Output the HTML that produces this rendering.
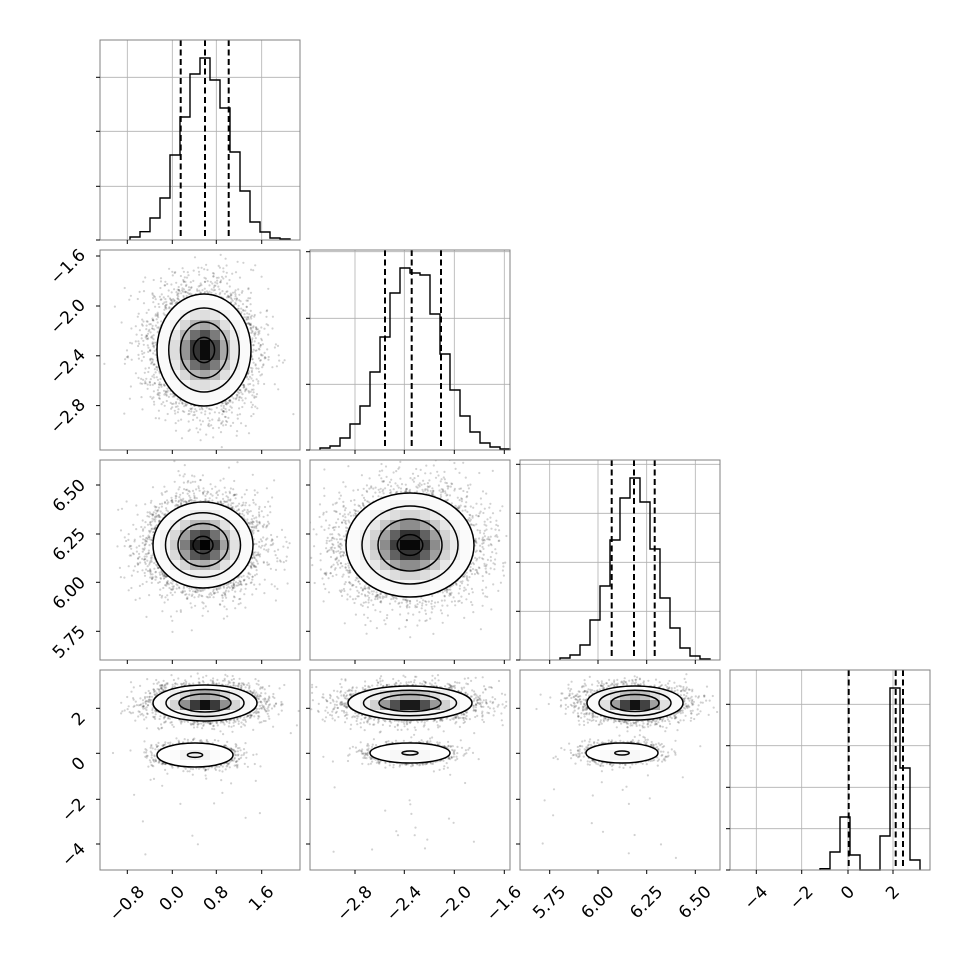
<!DOCTYPE html>
<html><head><meta charset="utf-8"><style>
html,body{margin:0;padding:0;background:#fff;}
svg{display:block;}
svg text{font-family:"DejaVu Sans","Liberation Sans",sans-serif;font-size:17px;fill:#000;}
</style></head><body>
<svg id="s" width="970" height="970" xmlns="http://www.w3.org/2000/svg"></svg>
<script>
const S=document.getElementById('s');
let html='';
const C=[100,310,520,730],R=[40,250,460,670],W=200;
let seed=12345;function rnd(){seed=(seed*1664525+1013904223)>>>0;return seed/4294967296;}
function gauss(){let u=rnd()||1e-9,v=rnd();return Math.sqrt(-2*Math.log(u))*Math.cos(2*Math.PI*v);}
const XT=[[127.3,172.3,216.3,261.7],[355,404.3,454.3,504.3],[549.7,598,646.7,695.3],[756.3,801.7,848,893]];
const XL=[["−0.8","0.0","0.8","1.6"],["−2.8","−2.4","−2.0","−1.6"],["5.75","6.00","6.25","6.50"],["−4","−2","0","2"]];
const YT=[null,[256,306,355.8,405.6],[485,534,582.3,631.3],[708.3,753.3,799.3,844]];
const YL=[null,["−1.6","−2.0","−2.4","−2.8"],["6.50","6.25","6.00","5.75"],["2","0","−2","−4"]];
let cid=0;
function frame(x,y,xt,yt){
  html+=`<rect x="${x}" y="${y}" width="${W}" height="${W}" fill="none" stroke="#808080" stroke-width="1"/>`;
  xt.forEach(t=>html+=`<line x1="${t}" y1="${y+W}" x2="${t}" y2="${y+W+4}" stroke="#000" stroke-width="1"/>`);
  yt.forEach(t=>html+=`<line x1="${x-4}" y1="${t}" x2="${x}" y2="${t}" stroke="#000" stroke-width="1"/>`);
}
const H=[
 {s:130,h:[3,8.3,22,42,85,123,166,182,160,132,88,49,18,8,2,1],yt:[77.3,131.3,186.3,240],d:[180.7,205,228.7]},
 {s:320,h:[2,4,12,26,44,78,113,157,182,177,175,136,96,60,34,18,7,3,1],yt:[251.7,318.3,384.3,450],d:[385,411.7,441]},
 {s:560,h:[2,5,15,40,74,120,162,182,158,111,62,32,12,4,1],yt:[464.3,513.3,562.3,611.3,660],d:[611.7,634,654.7]},
 {s:820,h:[1.3,18,53,15,0,0,34,182,102,10],yt:[704.3,745.7,787.3,828.7,870],d:[848.7,895.7,903]}];
H.forEach((h,i)=>{
  const x=C[i],y=R[i],b=y+W;
  XT[i].forEach(t=>html+=`<line x1="${t}" y1="${y}" x2="${t}" y2="${b}" stroke="#b0b0b0" stroke-width="0.8"/>`);
  h.yt.forEach(t=>html+=`<line x1="${x}" y1="${t}" x2="${x+W}" y2="${t}" stroke="#b0b0b0" stroke-width="0.8"/>`);
  let p=`M${h.s},${b}`;h.h.forEach((v,k)=>{p+=` L${h.s+k*10},${b-v} L${h.s+k*10+10},${b-v}`;});p+=` L${h.s+h.h.length*10},${b}`;
  html+=`<path d="${p}" fill="none" stroke="#000" stroke-width="1.4"/>`;
  h.d.forEach(t=>html+=`<line x1="${t}" y1="${y}" x2="${t}" y2="${b}" stroke="#000" stroke-width="2" stroke-dasharray="6,3.5"/>`);
  frame(x,y,XT[i],h.yt);
});
const P=[
 {r:1,c:0,b:[{cx:204,cy:350,sx:23.5,sy:28,n:5000,w:1,rs:[2,1.5,1,0.45]}]},
 {r:2,c:0,b:[{cx:203,cy:545,sx:25,sy:21.5,n:5000,w:1,rs:[2,1.5,1,0.4]}]},
 {r:2,c:1,b:[{cx:410,cy:545,sx:32,sy:26,n:5000,w:1,rs:[2,1.5,1,0.4]}]},
 {r:3,c:0,b:[{cx:205,cy:703,sx:26,sy:9,n:3000,w:1,rs:[2,1.5,1]},{cx:195,cy:755,sx:19,sy:6,n:1300,w:0.35,rs:[2,0.4]}]},
 {r:3,c:1,b:[{cx:410,cy:703,sx:31,sy:8.5,n:3000,w:1,rs:[2,1.5,1]},{cx:410,cy:753,sx:20,sy:5,n:1300,w:0.35,rs:[2,0.4]}]},
 {r:3,c:2,b:[{cx:635,cy:703,sx:24,sy:8.5,n:3000,w:1,rs:[2,1.5,1]},{cx:622,cy:753,sx:18,sy:5,n:1300,w:0.35,rs:[2,0.4]}]}];
P.forEach(p=>{
  const x=C[p.c],y=R[p.r];cid++;
  html+=`<clipPath id="pc${cid}"><rect x="${x}" y="${y}" width="${W}" height="${W}"/></clipPath>`;
  let cl='';p.b.forEach(b=>cl+=`<ellipse cx="${b.cx}" cy="${b.cy}" rx="${b.sx*2}" ry="${b.sy*2}"/>`);
  html+=`<clipPath id="ec${cid}">${cl}</clipPath>`;
  html+=`<g clip-path="url(#pc${cid})">`;
  let dots='';
  p.b.forEach(b=>{for(let k=0;k<b.n;k++){const dx=gauss()*b.sx*1.05,dy=gauss()*b.sy*1.05;dots+=`<circle cx="${(b.cx+dx).toFixed(1)}" cy="${(b.cy+dy).toFixed(1)}" r="1.1"/>`;}});
  if(p.r==3){for(let k=0;k<18;k++){dots+=`<circle cx="${(x+20+rnd()*150).toFixed(1)}" cy="${(770+rnd()*90).toFixed(1)}" r="1.1"/>`;}}
  html+=`<g fill="#000" fill-opacity="0.18">${dots}</g>`;
  let sq='';
  for(let gx=x;gx<x+W;gx+=10)for(let gy=y;gy<y+W;gy+=10){
    let v=0;p.b.forEach(b=>{const dx=(gx+5-b.cx)/b.sx,dy=(gy+5-b.cy)/b.sy;v+=b.w*Math.exp(-(dx*dx+dy*dy)/2);});
    v=Math.min(1,v);
    const g=Math.round(255*(1-Math.pow(v,2.6)));
    sq+=`<rect x="${gx}" y="${gy}" width="10" height="10" fill="rgb(${g},${g},${g})"/>`;
  }
  html+=`<g clip-path="url(#ec${cid})">${sq}</g>`;
  p.b.forEach(b=>b.rs.forEach(r=>html+=`<ellipse cx="${b.cx}" cy="${b.cy}" rx="${b.sx*r}" ry="${b.sy*r}" fill="none" stroke="#000" stroke-width="1.5"/>`));
  html+=`</g>`;
  frame(x,y,XT[p.c],YT[p.r]);
});
let lab='';
for(let c=0;c<4;c++)XT[c].forEach((t,k)=>lab+=`<text class="bl" data-x="${t}">${XL[c][k]}</text>`);
for(let r=1;r<4;r++)YT[r].forEach((t,k)=>lab+=`<text class="ll" data-y="${t}">${YL[r][k]}</text>`);
S.innerHTML=html+lab;
document.querySelectorAll('text.bl').forEach(e=>{
  const L=e.getComputedTextLength(),Hh=12,bb=(L+Hh)*0.7071;
  const cx=+e.getAttribute('data-x'),cy=885+bb/2;
  e.setAttribute('x',cx);e.setAttribute('y',cy);e.setAttribute('text-anchor','middle');e.setAttribute('dominant-baseline','central');
  e.setAttribute('transform',`rotate(-45 ${cx} ${cy})`);
});
document.querySelectorAll('text.ll').forEach(e=>{
  const L=e.getComputedTextLength(),Hh=12,bb=(L+Hh)*0.7071;
  const cx=87-bb/2,cy=+e.getAttribute('data-y')+11;
  e.setAttribute('x',cx);e.setAttribute('y',cy);e.setAttribute('text-anchor','middle');e.setAttribute('dominant-baseline','central');
  e.setAttribute('transform',`rotate(-45 ${cx} ${cy})`);
});
</script>
</body></html>
